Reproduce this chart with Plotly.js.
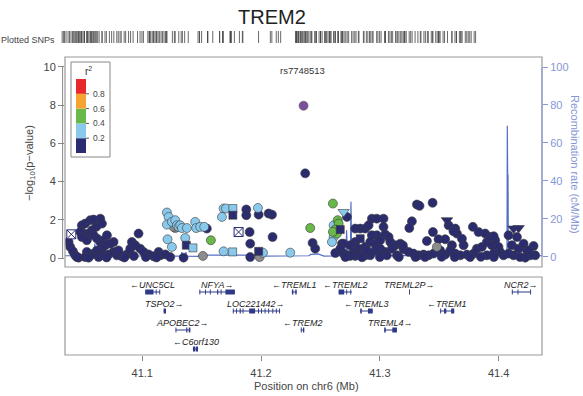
<!DOCTYPE html>
<html><head><meta charset="utf-8">
<script src="https://cdn.plot.ly/plotly-3.0.1.min.js"></script>
<style>html,body{margin:0;padding:0;background:#fff}#chart{width:583px;height:396px}</style>
</head><body><div id="chart"></div>
<script>
// ---------- DATA ----------
const regionTitle = 'TREM2';
const chromLabel = 'Position on chr6 (Mb)';
const xTicks = [41.1, 41.2, 41.3, 41.4];
const yTicks = [0, 2, 4, 6, 8, 10];
const recombTicks = [0, 20, 40, 60, 80, 100];

// index SNP
const indexName = 'rs7748513';
const indexPos = 41.2358;
const indexLogP = 7.97;

// r2 < 0.2 (navy circles)
const navyPos = [41.0380,41.0394,41.0417,41.0436,41.0464,41.0492,41.0520,41.0563,41.0591,41.0647,
41.0661,41.0613,41.0577,41.0549,41.0506,41.0478,41.0492,41.0534,41.0591,41.0619,
41.0647,41.0675,41.0703,41.0759,41.0731,41.0689,41.0661,41.0619,41.0591,41.0563,
41.0534,41.0520,41.0549,41.0633,41.0675,41.0717,41.0759,41.0787,41.0829,41.0871,
41.0899,41.0913,41.0941,41.0969,41.0983,41.1011,41.1054,41.1096,41.1138,41.1152,
41.1194,41.1236,41.1348,41.0450,41.0700,41.0850,41.0930,41.1030,41.1120,41.0800,
41.1544,41.1876,41.1876,41.1980,41.2064,41.2092,41.1904,41.1909,41.2097,41.1909,
41.2434,41.2456,41.2372,41.2723,41.2625,41.2681,
41.3312,41.3334,41.3444,41.3270,41.3248,41.3579,41.3635,41.3649,41.3783,41.3831,
41.3887,41.3447,41.3396,41.3494,41.3550,41.3607,41.3691,41.3705,41.2933,41.2975,
41.3031,41.2793,41.2835,41.2877,41.2905,41.3031,41.3045,41.2975,41.2933,41.2793,
41.2751,41.2695,41.2667,41.2695,41.2737,41.2779,41.2821,41.2877,41.2919,41.2961,
41.3003,41.3074,41.3088,41.3130,41.3172,41.3102,41.3045,41.3003,41.2961,41.2919,
41.2877,41.2835,41.2793,41.2751,41.2891,41.3059,41.3144,41.3200,41.3242,41.3284,
41.3326,41.3368,41.3410,41.3452,41.3508,41.3550,41.3593,41.3635,41.3677,41.3733,
41.3789,41.3817,41.3859,41.3901,41.3929,41.3943,41.3971,41.3999,41.4013,41.3957,
41.3901,41.4041,41.4083,41.4154,41.4112,41.4168,41.4210,41.4238,41.4294,41.4308,
41.4266,41.4126,41.4083,41.3194,41.4252,41.4224,41.3630,41.3520,41.3380,41.3850,
41.3760,41.3300,41.3000,41.2850,41.3160,41.3960,41.4180,41.2710,41.3958,41.3620];
const navyLogP = [0.84,0.58,0.35,0.14,0.02,1.71,1.80,1.98,2.01,2.06,
1.80,1.63,1.45,1.28,1.28,1.37,1.10,0.93,1.19,1.02,
0.84,0.93,1.19,0.84,0.75,0.67,0.49,0.40,0.23,0.14,
0.32,0.05,0.02,0.05,0.14,0.19,0.32,0.14,0.09,0.19,
0.49,0.84,0.67,1.28,0.49,0.32,0.19,0.09,0.32,0.14,
0.19,0.05,0.02,0.05,0.03,0.03,0.10,0.05,0.03,0.40,
1.54,2.54,2.24,2.27,2.33,2.27,1.36,0.75,1.10,0.05,
0.79,0.49,4.43,2.15,0.26,0.75,
2.80,2.73,2.89,1.92,1.57,1.71,1.54,1.28,1.63,1.36,
1.28,1.36,0.89,0.98,0.98,0.67,1.01,0.67,2.06,2.06,
2.06,1.54,1.54,1.54,1.71,1.63,1.23,1.19,1.19,0.84,
0.67,0.75,0.49,0.23,0.14,0.32,0.49,0.58,0.84,0.75,
0.93,1.10,0.84,0.67,0.75,0.49,0.32,0.49,0.40,0.14,
0.14,0.14,0.11,0.11,0.40,0.14,0.14,0.46,0.32,0.23,
0.14,0.18,0.14,0.23,0.40,0.18,0.40,0.23,0.14,0.18,
0.23,0.49,0.58,0.84,1.10,0.67,0.93,0.58,0.32,0.23,
0.14,0.14,1.19,1.10,0.67,0.49,0.75,0.40,0.63,0.14,
0.14,0.14,0.23,0.66,0.40,0.02,0.05,0.06,0.05,0.06,
0.05,0.05,0.05,0.04,0.05,0.05,0.05,0.05,1.14,1.40];

// 0.2 <= r2 < 0.4 (light blue circles)
const lightPos = [41.1208,41.1222,41.1208,41.1250,41.1278,41.1292,41.1306,41.1320,41.1334,41.1376,
41.1446,41.1454,41.1488,41.1522,41.1213,41.1250,41.1362,41.1685,41.1671,41.1705,
41.1974,41.1685,41.2016,41.2246,41.2611,41.2611,41.2597];
const lightLogP = [2.38,2.15,1.75,1.89,1.98,1.71,1.63,1.71,1.57,1.57,
1.89,1.57,1.63,1.63,0.98,0.58,1.05,2.59,2.15,2.59,
2.62,0.35,0.28,0.28,1.71,1.10,0.84];

// 0.4 <= r2 < 0.6 (green circles)
const greenPos = [41.1578,41.2414,41.2605,41.2645,41.2653,41.2625,41.2639,41.2605];
const greenLogP = [0.93,1.57,2.85,1.98,1.80,1.49,1.28,1.37];

// r2 not available (gray)
const grayPos = [41.1278,41.1264,41.1511,41.1988,41.3480];
const grayLogP = [1.57,1.63,0.11,0.05,0.58];

// annotated SNPs: squares, triangles, boxed-X
const squarePos = [41.1371,41.1427,41.1763,41.1763,41.1761,41.1980,41.2667,41.2835];
const squareLogP = [0.67,0.53,2.59,2.24,0.32,0.35,1.49,1.01];
const squareR2 = [0.1,0.3,0.3,0.1,0.3,0.1,0.1,0.1];
const trianglePos = [41.2695,41.3565,41.4126,41.4168];
const triangleLogP = [2.41,1.98,1.54,1.57];
const triangleR2 = [0.3,0.1,0.1,0.1];
const boxXPos = [41.0403,41.1811];
const boxXLogP = [1.24,1.36];

// recombination rate (cM/Mb)
const recombPos = [41.035,41.0598,41.0601,41.0604,41.1330,41.1333,41.1336,41.1365,41.1368,41.1371,
41.1470,41.1480,41.2000,41.2010,41.2400,41.2420,41.2480,41.2530,41.2715,41.2720,
41.2728,41.2752,41.2757,41.2763,41.3000,41.3500,41.3943,41.3946,41.3950,41.4070,
41.4073,41.4076,41.4079,41.4082,41.4365];
const recombRate = [0.5,0.5,7,0.5,0.3,2.5,0.3,0.3,2.5,0.3,
0.2,0.8,0.8,0.3,0.5,1.2,1.5,0.3,0.5,14,
1,1,29,0.5,0.6,0.6,0.6,13,0.6,0.6,
69,43,43,0.6,0.5];

// genes
const geneName   = ['UNC5CL','TSPO2','APOBEC2','C6orf130','NFYA','LOC221442','TREML1','TREM2','TREML2','TREML2P','TREML3','TREML4','TREM1','NCR2'];
const geneStart  = [41.1025,41.1180,41.1280,41.1427,41.1482,41.1763,41.2260,41.2335,41.2653,41.3248,41.2835,41.3037,41.3508,41.4112];
const geneEnd    = [41.1150,41.1200,41.1405,41.1470,41.1780,41.2160,41.2300,41.2364,41.2765,41.3252,41.2940,41.3144,41.3626,41.4272];
const geneStrand = [-1,1,1,-1,1,1,-1,-1,-1,1,-1,1,-1,1];
const geneRow    = [1,2,3,4,1,2,1,3,1,1,2,3,2,1];
const geneExons  = [
  [[41.1025,41.1095],[41.1115,41.1120],[41.1145,41.1150]],
  [[41.1180,41.1200]],
  [[41.1280,41.1288],[41.1370,41.1380],[41.1392,41.1405]],
  [[41.1427,41.1445],[41.1450,41.1470]],
  [[41.1482,41.1488],[41.1530,41.1536],[41.1570,41.1576],[41.1630,41.1640],[41.1660,41.1668],[41.1700,41.1780]],
  [[41.1763,41.1770],[41.1790,41.1797],[41.1820,41.1830],[41.1845,41.1852],[41.1900,41.1950],[41.1975,41.1982],[41.2000,41.2008],[41.2030,41.2038],[41.2060,41.2068],[41.2095,41.2103],[41.2125,41.2133],[41.2152,41.2160]],
  [[41.2260,41.2272],[41.2288,41.2300]],
  [[41.2335,41.2342],[41.2353,41.2364]],
  [[41.2653,41.2700],[41.2718,41.2724],[41.2752,41.2758]],
  [[41.3248,41.3252]],
  [[41.2835,41.2848],[41.2900,41.2940]],
  [[41.3037,41.3050],[41.3105,41.3144]],
  [[41.3508,41.3516],[41.3540,41.3560],[41.3600,41.3626]],
  [[41.4112,41.4118],[41.4160,41.4166],[41.4266,41.4272]]
];

// LD legend
const ldBreaks = [0, 0.2, 0.4, 0.6, 0.8, 1];
const ldColors = ['#2B2C70','#89C9EC','#69B84A','#F5A431','#E8292B'];
const ldLabels = ['0.2','0.4','0.6','0.8'];

// ---------- STYLE / LAYOUT ----------
const FONT = 'Liberation Sans, Arial, Helvetica, sans-serif';
const W = 583, H = 396, ML = 55, MR = 41, MT = 30, MB = 41;
const PW = W - ML - MR, PH = H - MT - MB;
const PX = x => (x - ML) / PW;
const PY = y => (H - MB - y) / PH;
const xRange = [41.035, 41.4365];
const NAVY = ldColors[0];
const GRAYC = '#8c8c8c';
const INDEXC = '#7B4F9E';
const RECOMBC = '#5470c6';
const RAXISC = '#8597d6';
const GENEC = '#2e3a87';

function ldColor(r) {
  if (r == null) return GRAYC;
  for (let i = 0; i < ldColors.length; i++) {
    if (r < ldBreaks[i + 1] || i === ldColors.length - 1) return ldColors[i];
  }
}
const ptLine = {color: '#3a3a3a', width: 0.6};

const traces = [];
traces.push({x: recombPos, y: recombRate, xaxis: 'x', yaxis: 'y', mode: 'lines',
  line: {color: RECOMBC, width: 1.2}, hoverinfo: 'skip'});

function circ(xs, ys, color) {
  return {x: xs, y: ys, xaxis: 'x', yaxis: 'y2', mode: 'markers',
    marker: {symbol: 'circle', size: 9, color: color, line: ptLine}};
}
traces.push(circ(navyPos, navyLogP, ldColor(0.1)));
traces.push(circ(grayPos, grayLogP, ldColor(null)));
traces.push(circ(lightPos, lightLogP, ldColor(0.3)));
traces.push(circ(greenPos, greenLogP, ldColor(0.5)));
traces.push({x: squarePos, y: squareLogP, xaxis: 'x', yaxis: 'y2', mode: 'markers',
  marker: {symbol: 'square', size: 8, color: squareR2.map(ldColor), line: ptLine}});
traces.push({x: trianglePos, y: triangleLogP, xaxis: 'x', yaxis: 'y2', mode: 'markers',
  marker: {symbol: 'triangle-down', size: 10, color: triangleR2.map(ldColor), line: ptLine}});
traces.push({x: boxXPos, y: boxXLogP, xaxis: 'x', yaxis: 'y2', mode: 'markers',
  marker: {symbol: 'square-x', size: 9, color: '#ffffff', line: {color: NAVY, width: 1}}});
traces.push({x: [indexPos], y: [indexLogP], xaxis: 'x', yaxis: 'y2', mode: 'markers',
  marker: {symbol: 'circle', size: 9, color: INDEXC, line: {color: '#555', width: 0.6}}});

// rug of plotted SNPs
const allPos = [].concat(navyPos, lightPos, greenPos, grayPos, squarePos, trianglePos, boxXPos, [indexPos]);
traces.push({x: allPos, y: allPos.map(() => 0.5), xaxis: 'x3', yaxis: 'y4', mode: 'markers',
  marker: {symbol: 'line-ns', size: 11, color: '#444', line: {color: '#444', width: 0.8}}});

// genes
const gx = [], gy = [];
geneName.forEach((g, i) => { gx.push(geneStart[i], geneEnd[i], null); gy.push(geneRow[i], geneRow[i], null); });
traces.push({x: gx, y: gy, xaxis: 'x2', yaxis: 'y3', mode: 'lines', line: {color: GENEC, width: 1}});
const ex = [], ey = [];
geneExons.forEach((list, i) => list.forEach(e => {
  let a = e[0], b = e[1];
  if (b - a < 0.0008) { const m = (a + b) / 2; a = m - 0.0004; b = m + 0.0004; }
  ex.push(a, b, null); ey.push(geneRow[i], geneRow[i], null);
}));
traces.push({x: ex, y: ey, xaxis: 'x2', yaxis: 'y3', mode: 'lines', line: {color: GENEC, width: 5}});

// shapes
const shapes = [
  {type: 'rect', xref: 'x domain', yref: 'y domain', x0: 0, x1: 1, y0: 0, y1: 1, line: {color: '#9a9a9a', width: 1.2}},
  {type: 'rect', xref: 'x2 domain', yref: 'y3 domain', x0: 0, x1: 1, y0: 0, y1: 1, line: {color: '#9a9a9a', width: 1.2}},
  {type: 'line', xref: 'x domain', yref: 'y2', x0: -0.005, x1: -0.005, y0: yTicks[0], y1: yTicks[yTicks.length-1], line: {color: '#888', width: 1}},
  {type: 'line', xref: 'x domain', yref: 'y', x0: 1, x1: 1, y0: recombTicks[0], y1: recombTicks[recombTicks.length-1], line: {color: RAXISC, width: 1}},
  {type: 'rect', xref: 'paper', yref: 'paper', x0: PX(71), x1: PX(110), y0: PY(157), y1: PY(62), fillcolor: '#fff', line: {color: '#888', width: 1}}
];
const annotations = [];
function note(o) { annotations.push(Object.assign({xanchor: 'center', yanchor: 'middle', showarrow: false}, o)); }
const barTop = 79, barBot = 153;
ldColors.forEach((c, i) => {
  shapes.push({type: 'rect', xref: 'paper', yref: 'paper', x0: PX(76), x1: PX(86),
    y0: PY(barBot - ldBreaks[i] * (barBot - barTop)), y1: PY(barBot - ldBreaks[i + 1] * (barBot - barTop)),
    fillcolor: c, line: {width: 0}});
});
ldLabels.forEach((t, i) => {
  const yy = barBot - ldBreaks[i + 1] * (barBot - barTop);
  shapes.push({type: 'line', xref: 'paper', yref: 'paper', x0: PX(86), x1: PX(89), y0: PY(yy), y1: PY(yy), line: {color: '#555', width: 1}});
  note({xref: 'paper', yref: 'paper', x: PX(91), y: PY(yy), xanchor: 'left', text: t, font: {family: FONT, size: 8.5, color: '#444'}});
});
note({xref: 'paper', yref: 'paper', x: PX(88), y: PY(71), text: 'r<sup>2</sup>', font: {family: FONT, size: 10, color: '#333'}});

// gene labels
geneName.forEach((g, i) => {
  const txt = geneStrand[i] < 0 ? '\u2190' + g : g + '\u2192';
  note({xref: 'x2', yref: 'y3', x: (geneStart[i] + geneEnd[i]) / 2, y: geneRow[i], yshift: 7,
    text: '<i>' + txt + '</i>', font: {family: FONT, size: 9, color: '#222'}});
});

// misc text
note({xref: 'x', yref: 'y2', x: indexPos - 0.0013, y: 9.79, text: indexName, font: {family: FONT, size: 9.5, color: '#333'}});
note({xref: 'paper', yref: 'paper', x: PX(57), y: PY(40), xanchor: 'right', text: 'Plotted SNPs', font: {family: FONT, size: 9, color: '#444'}});
note({xref: 'paper', yref: 'paper', x: PX(30), y: PY(163), textangle: -90,
  text: '\u2212log<sub>10</sub>(p\u2212value)', font: {family: FONT, size: 11, color: '#444'}});
note({xref: 'paper', yref: 'paper', x: PX(575), y: PY(164), textangle: 90,
  text: 'Recombination rate (cM/Mb)', font: {family: FONT, size: 11, color: RAXISC}});
note({xref: 'paper', yref: 'paper', x: PX(306), y: PY(386), text: chromLabel, font: {family: FONT, size: 11, color: '#444'}});

const mainDom = [PY(267), PY(57)];
const xDom = [PX(65), 1];
const layout = {
  width: W, height: H, margin: {l: ML, r: MR, t: MT, b: MB},
  paper_bgcolor: '#fff', plot_bgcolor: 'rgba(0,0,0,0)', showlegend: false,
  font: {family: FONT},
  title: {text: regionTitle, x: 272 / W, xanchor: 'center', xref: 'container', y: 1 - 17 / H, yanchor: 'middle', yref: 'container',
    font: {family: FONT, size: 20, color: '#222'}},
  xaxis: {domain: xDom, range: xRange, visible: false, anchor: 'y'},
  yaxis: {domain: mainDom, range: [-5.43, 105.27], side: 'right', anchor: 'x', tickvals: recombTicks,
    ticks: 'outside', ticklen: 5, tickcolor: RAXISC, tickfont: {family: FONT, size: 11, color: RAXISC},
    showgrid: false, zeroline: false, showline: false},
  yaxis2: {overlaying: 'y', side: 'left', anchor: 'x', range: [-0.47, 10.52], tickvals: yTicks,
    ticks: 'outside', ticklen: 6, tickcolor: '#888', tickfont: {family: FONT, size: 11, color: '#444'},
    showgrid: false, zeroline: false, showline: false},
  xaxis2: {domain: xDom, range: xRange, anchor: 'y3', tickvals: xTicks, ticks: 'outside', ticklen: 5,
    tickcolor: '#888', tickfont: {family: FONT, size: 11, color: '#444'}, ticklabelstandoff: 3,
    showgrid: false, zeroline: false, showline: false},
  yaxis3: {domain: [0, PY(277)], range: [4.315, 0.21], visible: false, anchor: 'x2'},
  xaxis3: {domain: [PX(59), PX(481.6)], range: xRange, visible: false, anchor: 'y4'},
  yaxis4: {domain: [PY(43), PY(31)], range: [0, 1], visible: false, anchor: 'x3'},
  shapes: shapes, annotations: annotations, hovermode: false
};
Plotly.newPlot('chart', traces, layout, {staticPlot: true, displayModeBar: false});
</script></body></html>
